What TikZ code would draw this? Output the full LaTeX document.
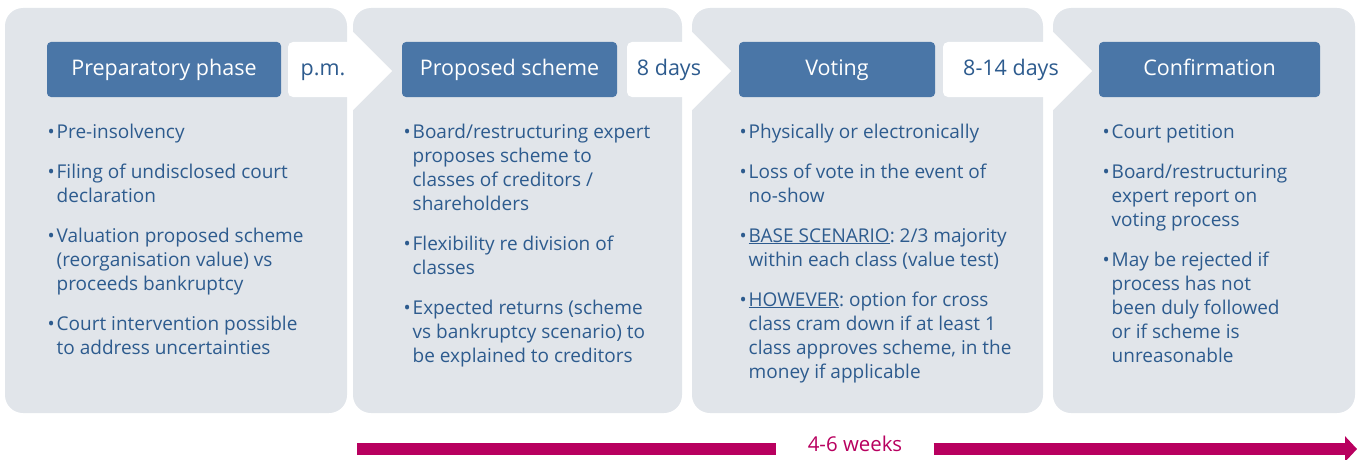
\documentclass[tikz,border=0pt]{standalone}
\usepackage{fontspec}
\setmainfont{Open Sans}
\usetikzlibrary{positioning,arrows.meta}

\definecolor{panelgray}{HTML}{E1E5EA}
\definecolor{stepblue}{HTML}{4A76A7}
\definecolor{textblue}{HTML}{2D5B8E}
\definecolor{timemag}{HTML}{B8005F}

\newcommand{\bul}{\strut\makebox[9pt][l]{\textbullet}}
\newcommand{\ind}{\hspace*{9pt}}
\frenchspacing

\begin{document}
\begin{tikzpicture}[x=1pt, y=-1pt,
  panel/.style={fill=panelgray, rounded corners=18pt},
  stepbox/.style={fill=stepblue, text=white, rounded corners=4pt, minimum height=55pt,
    inner sep=0pt, text height=15.5pt, text depth=4.5pt, font=\fontsize{21.5}{24}\selectfont},
  leadtext/.style={text=textblue, inner sep=0pt, text height=15.5pt, text depth=4.5pt,
    font=\fontsize{21.5}{24}\selectfont},
  notes/.style={text=textblue, align=left, anchor=north west, inner sep=0pt,
    font=\fontsize{19}{24}\selectfont},
  timeline/.style={timemag, line width=12pt}]
  \useasboundingbox (0,0) rectangle (1359,460);

  % grey columns
  \fill[panel] (5,8) rectangle (347,413);
  \fill[panel] (353,8) rectangle (682,413);
  \fill[panel] (692,8) rectangle (1043,413);
  \fill[panel] (1053,8) rectangle (1355,413);

  % white lead time arrows between the columns
  \foreach \a/\b/\c in {288/353/392, 627/692/731, 943/1053/1092} {
    \fill[white, rounded corners=5pt] (\a,42) rectangle (\b+6,97);
    \fill[white] (\b,32) -- (\c,71) -- (\b,110) -- cycle;
  }
  \node[leadtext] (pm) at (323,69.5) {p.m.};
  \node[leadtext] (days) at (669,69.5) {8 days};
  \node[leadtext] (vdays) at (1011,69.5) {8-14 days};

  % step headers
  \node[stepbox, minimum width=234pt] (prep) at (164,69.5) {Preparatory phase};
  \node[stepbox, minimum width=215pt] (scheme) at (509.5,69.5) {Proposed scheme};
  \node[stepbox, minimum width=196pt] (voting) at (837,69.5) {Voting};
  \node[stepbox, minimum width=221pt] (confirm) at (1209.5,69.5) {Confirmation};

  % bullet lists
  \node[notes] (prepnotes) at (47.5,121) {%
    \bul Pre-insolvency\\[16pt]
    \bul Filing of undisclosed court\\ \ind declaration\\[16pt]
    \bul Valuation proposed scheme\\ \ind (reorganisation value) vs\\ \ind proceeds bankruptcy\\[16pt]
    \bul Court intervention possible\\ \ind to address uncertainties};
  \node[notes] (schemenotes) at (403.5,121) {%
    \bul Board/restructuring expert\\ \ind proposes scheme to\\ \ind classes of creditors /\\ \ind shareholders\\[16pt]
    \bul Flexibility re division of\\ \ind classes\\[16pt]
    \bul Expected returns (scheme\\ \ind vs bankruptcy scenario) to\\ \ind be explained to creditors};
  \node[notes] (votingnotes) at (739.5,121) {%
    \bul Physically or electronically\\[16pt]
    \bul Loss of vote in the event of\\ \ind no-show\\[16pt]
    \bul \underline{BASE SCENARIO}: 2/3 majority\\ \ind within each class (value test)\\[16pt]
    \bul \underline{HOWEVER}: option for cross\\ \ind class cram down if at least 1\\ \ind class approves scheme, in the\\ \ind money if applicable};
  \node[notes] (confirmnotes) at (1102.5,121) {%
    \bul Court petition\\[16pt]
    \bul Board/restructuring\\ \ind expert report on\\ \ind voting process\\[16pt]
    \bul May be rejected if\\ \ind process has not\\ \ind been duly followed\\ \ind or if scheme is\\ \ind unreasonable};

  % time line
  \node[text=timemag, font=\fontsize{20.4}{24}\selectfont] (weeks) at (855,444) {4-6 weeks};
  \coordinate (tstart) at (357,449);
  \coordinate (tend) at (1357,449);
  \draw[timeline, shorten >=28pt] (tstart) -- (tstart -| weeks.west);
  \draw[timeline, shorten <=28pt, -{Triangle[length=12pt, width=25pt]}] (tend -| weeks.east) -- (tend);
\end{tikzpicture}
\end{document}
